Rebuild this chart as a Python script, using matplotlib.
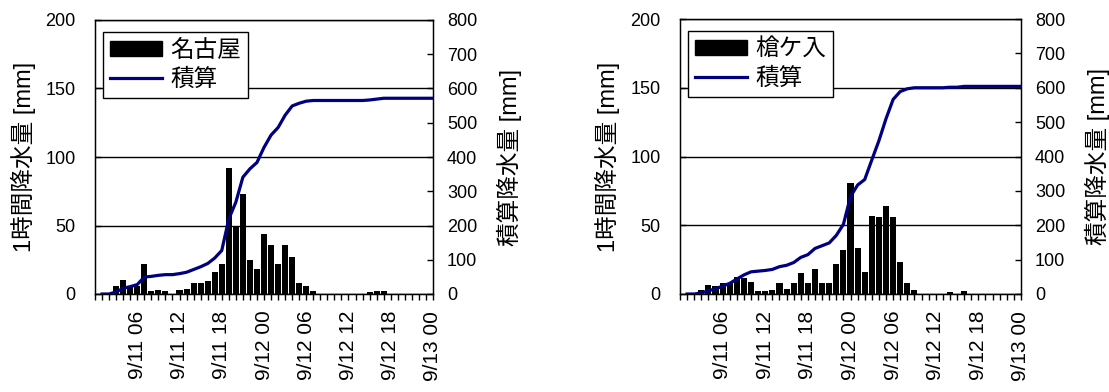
import numpy as np
import matplotlib
matplotlib.use('Agg')
import matplotlib.pyplot as plt
from matplotlib.patches import Patch
from matplotlib.lines import Line2D

plt.rcParams['font.family'] = ['Liberation Sans', 'Noto Sans CJK JP', 'DejaVu Sans']

# hourly slots 9/11 01 .. 9/13 00
hours = np.arange(1, 49)
tick_pos = [6, 12, 18, 24, 30, 36, 42, 48]
tick_labels = ['9/11 06', '9/11 12', '9/11 18', '9/12 00',
               '9/12 06', '9/12 12', '9/12 18', '9/13 00']

# 1-hour rainfall [mm]
nagoya = [0, 0, 6, 10.5, 5, 6, 22, 2, 3, 2,
          0, 3, 4, 8, 8, 9.5, 16, 22, 92, 49,
          73, 24.5, 18.5, 44, 36, 22, 36, 27, 8, 6,
          2, 0, 0, 0, 0, 0, 0, 0, 1.5, 2.5,
          2.5, 0, 0, 0, 0, 0, 0, 0]
yarigairi = [0, 0, 3, 6.5, 5.5, 8, 8, 12.5, 12, 9,
             2, 2, 3, 8, 4, 8, 15, 8, 18, 8,
             8, 22, 32, 81, 33.5, 16, 57, 56, 64, 56,
             23, 8, 3, 0, 0, 0, 0, 1.5, 0, 2.5,
             0, 0, 0, 0, 0, 0, 0, 0]

stations = ['名古屋', '槍ケ入']
series = [nagoya, yarigairi]

fig = plt.figure(figsize=(11.09, 3.92), dpi=100)
rects = [[95/1109, 98/392, 338/1109, 274/392],
         [680/1109, 98/392, 341/1109, 275/392]]

for rect, name, vals in zip(rects, stations, series):
    ax = fig.add_axes(rect)
    ax.set_axisbelow(True)
    ax.bar(hours, vals, width=0.86, color='black')
    ax.set_xlim(0, 48)
    ax.set_ylim(0, 200)
    ax.set_yticks([0, 50, 100, 150, 200])
    ax.yaxis.grid(True, color='black', linewidth=1)
    ax.set_xticks(np.arange(0, 49), minor=True)
    ax.set_xticks(tick_pos)
    ax.set_xticklabels(tick_labels, rotation=90, fontsize=15)
    ax.tick_params(axis='x', which='both', direction='out', length=4, width=1, pad=8)
    ax.tick_params(axis='y', direction='in', length=4, width=1, pad=14, labelsize=13)
    ax.set_ylabel('1時間降水量 [mm]', fontsize=17)
    ax.yaxis.label.set_va('center')
    ax.yaxis.set_label_coords(-0.213, 0.5)
    for s in ax.spines.values():
        s.set_linewidth(1)

    ax2 = ax.twinx()
    cum = np.cumsum(vals)
    ax2.plot(hours, cum, color='#000080', linewidth=2.3)
    ax2.set_ylim(0, 800)
    ax2.set_yticks(np.arange(0, 801, 100))
    ax2.tick_params(axis='y', direction='in', length=4, width=1, pad=10, labelsize=13)
    ax2.set_ylabel('積算降水量 [mm]', fontsize=17)
    ax2.yaxis.label.set_va('center')
    ax2.yaxis.set_label_coords(1.225, 0.5)

    handles = [Patch(facecolor='black', edgecolor='black'),
               Line2D([0], [0], color='#000080', linewidth=2.3)]
    leg = ax2.legend(handles, [name, '積算'], loc='upper left',
                     bbox_to_anchor=(0.024, 0.955), fontsize=17,
                     frameon=True, fancybox=False, framealpha=1,
                     edgecolor='black', handlelength=2.2, handleheight=0.6,
                     handletextpad=0.35, labelspacing=0.3, borderpad=0.3,
                     borderaxespad=0)
    leg.get_frame().set_linewidth(1)

fig.savefig('out.png', dpi=100)
